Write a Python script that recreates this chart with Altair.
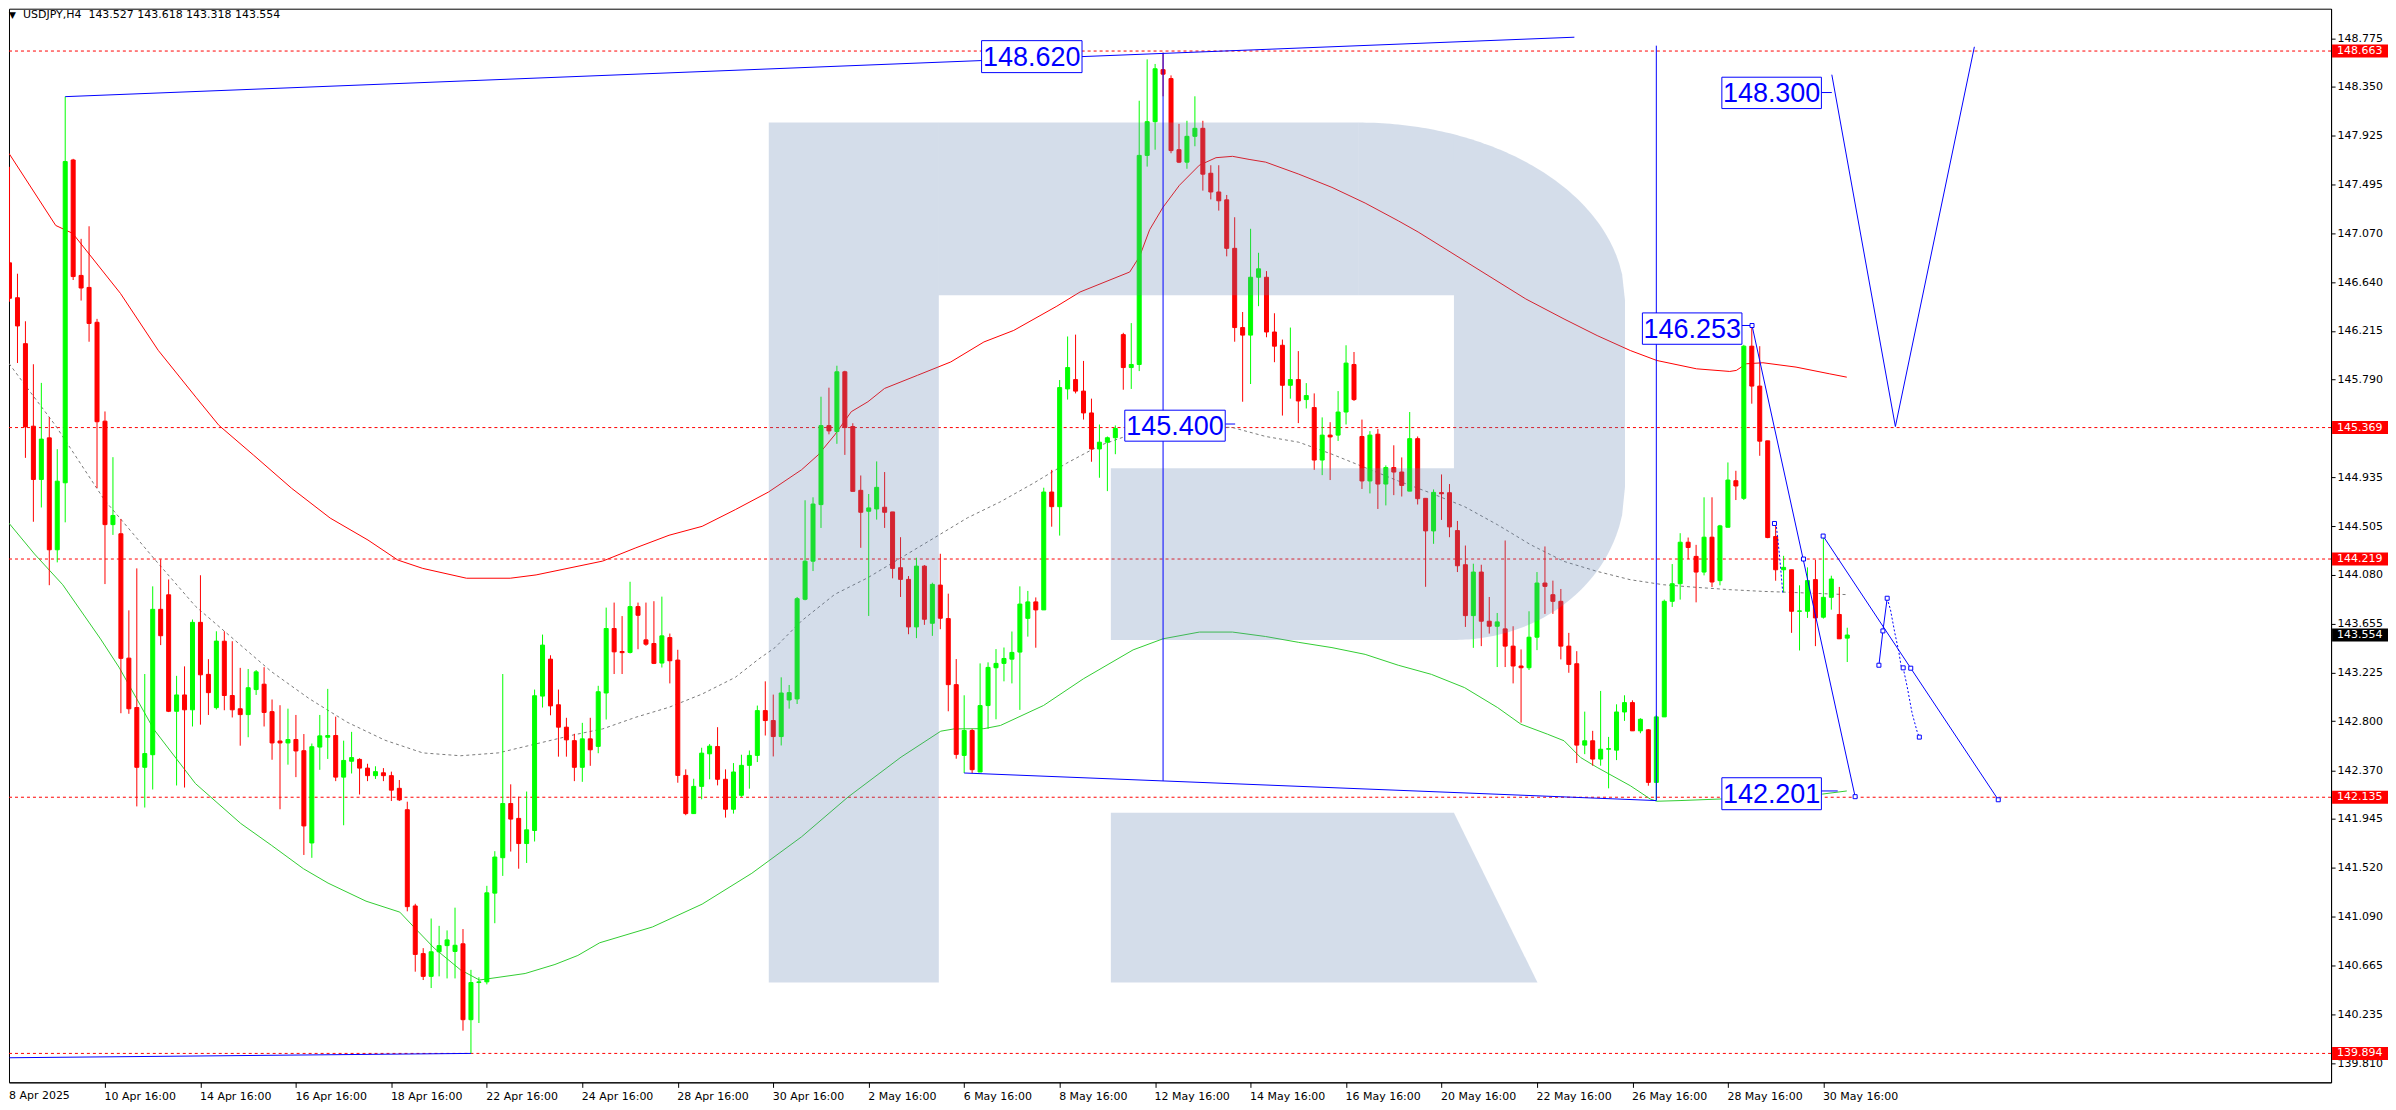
import altair as alt
import pandas as pd
import numpy as np

# ---------------- candle data (H4, index 0 = 8 Apr 16:00) ----------------
opens = [
146.810, 146.505, 146.103, 145.381, 144.915, 145.279, 144.300, 144.886, 147.710, 146.700,
146.595, 146.290, 145.425, 144.520, 144.440, 143.352, 142.920, 142.397, 142.507, 143.779,
143.906, 142.887, 143.030, 142.900, 143.665, 143.210, 142.919, 143.500, 143.025, 142.909,
142.858, 143.077, 143.124, 142.884, 142.627, 142.610, 142.640, 142.542, 141.735, 142.574,
142.660, 142.675, 142.311, 142.450, 142.466, 142.390, 142.324, 142.349, 142.324, 142.213,
142.026, 141.184, 140.767, 140.568, 140.783, 140.837, 140.786, 140.853, 140.189, 140.514,
140.520, 141.296, 141.606, 142.080, 141.950, 141.730, 141.844, 143.020, 143.343, 142.944,
142.748, 142.630, 142.397, 142.646, 142.580, 143.047, 143.611, 143.410, 143.402, 143.803,
143.512, 143.480, 143.309, 143.532, 143.335, 142.326, 141.992, 142.230, 142.515, 142.579,
142.292, 142.030, 142.152, 142.414, 142.501, 142.893, 142.806, 142.666, 142.986, 142.995,
143.867, 144.200, 144.695, 145.386, 145.334, 145.857, 145.378, 144.820, 144.637, 144.657,
144.672, 144.631, 144.143, 144.041, 143.625, 144.157, 143.657, 143.991, 143.698, 143.120,
142.501, 142.719, 142.356, 142.937, 143.268, 143.306, 143.343, 143.405, 143.700, 143.844,
143.774, 144.805, 144.677, 145.707, 145.789, 145.688, 145.497, 145.182, 145.241, 145.280,
146.182, 145.894, 145.921, 147.750, 148.045, 148.500, 148.422, 147.800, 147.691, 147.917,
147.987, 147.594, 147.430, 147.361, 146.937, 146.244, 146.178, 146.684, 146.684, 146.205,
146.089, 145.739, 145.789, 145.614, 145.544, 145.085, 145.303, 145.303, 145.505, 145.921,
145.291, 144.902, 145.311, 144.875, 145.019, 144.980, 144.813, 145.272, 144.750, 144.465,
144.800, 144.799, 144.468, 144.169, 143.724, 144.105, 143.675, 143.631, 143.608, 143.457,
143.283, 143.268, 143.535, 144.009, 143.907, 143.849, 143.457, 143.303, 142.591, 142.629,
142.469, 142.555, 142.547, 142.881, 142.963, 142.716, 142.725, 142.265, 142.838, 143.849,
144.003, 144.366, 144.242, 144.105, 144.410, 144.030, 144.497, 144.904, 144.750, 146.081,
145.732, 145.253, 144.416, 144.125, 144.125, 143.762, 143.762, 144.039, 143.710, 143.884,
143.734, 143.527]
highs = [
147.650, 146.715, 146.299, 145.923, 145.760, 145.460, 145.180, 148.264, 147.720, 147.020,
147.130, 146.320, 145.510, 145.110, 144.570, 143.770, 144.137, 143.213, 143.980, 144.216,
144.040, 143.197, 143.280, 143.690, 144.077, 143.343, 143.587, 143.587, 143.500, 143.267,
143.257, 143.248, 143.273, 142.990, 142.940, 142.910, 142.855, 142.688, 142.605, 142.855,
143.083, 142.840, 142.630, 142.707, 142.476, 142.428, 142.406, 142.390, 142.359, 142.286,
142.096, 141.203, 140.815, 141.074, 141.010, 140.970, 141.169, 140.982, 140.625, 140.560,
141.360, 141.663, 143.213, 142.248, 142.140, 142.185, 143.077, 143.558, 143.377, 143.077,
142.830, 142.690, 142.786, 142.830, 143.110, 143.794, 143.838, 143.720, 144.020, 143.838,
143.838, 143.850, 143.890, 143.567, 143.425, 142.379, 142.297, 142.568, 142.600, 142.748,
142.379, 142.434, 142.507, 142.544, 142.937, 143.149, 143.033, 143.184, 143.117, 143.887,
144.733, 144.759, 145.639, 145.718, 145.910, 145.866, 145.407, 144.950, 144.788, 145.073,
144.980, 144.631, 144.410, 144.070, 144.230, 144.166, 144.012, 144.265, 143.916, 143.344,
143.027, 142.733, 143.306, 143.315, 143.431, 143.445, 143.585, 143.980, 143.940, 143.883,
144.843, 144.999, 145.785, 146.166, 146.182, 145.952, 145.622, 145.396, 145.291, 145.388,
146.198, 146.283, 148.228, 148.590, 148.550, 148.650, 148.450, 148.026, 148.053, 148.267,
148.053, 147.664, 147.664, 147.404, 147.209, 146.380, 147.108, 146.898, 146.738, 146.369,
146.139, 146.244, 146.038, 145.758, 145.668, 145.458, 145.416, 145.688, 146.089, 146.030,
145.439, 145.338, 145.357, 145.038, 145.214, 145.108, 145.505, 145.291, 144.750, 144.828,
144.959, 144.875, 144.552, 144.337, 144.178, 144.169, 143.887, 143.747, 144.381, 143.631,
143.428, 143.762, 144.105, 144.329, 144.030, 143.957, 143.573, 143.413, 142.884, 142.716,
143.065, 142.663, 142.948, 143.027, 142.983, 142.826, 142.731, 142.855, 143.864, 144.175,
144.445, 144.407, 144.343, 144.759, 144.759, 144.518, 145.064, 144.991, 146.093, 146.253,
146.081, 145.253, 144.547, 144.247, 144.125, 143.989, 144.146, 144.212, 144.436, 144.073,
143.975, 143.618]
lows = [
146.470, 145.934, 145.104, 144.545, 144.670, 143.990, 144.190, 144.540, 146.660, 146.480,
146.120, 144.840, 144.000, 144.430, 142.870, 142.865, 142.055, 142.045, 142.203, 143.466,
142.880, 142.238, 142.220, 142.754, 142.770, 142.855, 142.903, 142.896, 142.833, 142.586,
142.660, 143.030, 142.754, 142.463, 142.030, 142.420, 142.311, 141.630, 141.605, 142.375,
142.470, 142.276, 141.890, 142.343, 142.159, 142.276, 142.295, 142.276, 142.102, 142.102,
141.137, 140.609, 140.536, 140.466, 140.568, 140.550, 140.550, 140.093, 139.894, 140.160,
140.498, 141.033, 141.447, 141.660, 141.510, 141.560, 141.748, 142.920, 142.852, 142.490,
142.490, 142.276, 142.270, 142.410, 142.520, 142.815, 143.213, 143.213, 143.393, 143.430,
143.460, 143.300, 143.270, 143.131, 142.262, 141.978, 141.990, 142.117, 142.292, 142.239,
141.957, 141.992, 142.138, 142.210, 142.443, 142.675, 142.492, 142.588, 142.910, 142.951,
143.858, 144.114, 144.491, 145.310, 145.227, 145.130, 144.811, 144.317, 143.721, 144.564,
144.491, 144.050, 143.887, 143.561, 143.527, 143.643, 143.547, 143.605, 142.887, 142.472,
142.347, 142.347, 142.356, 142.733, 142.817, 143.149, 143.131, 142.899, 143.540, 143.443,
143.774, 144.502, 144.424, 145.614, 145.668, 145.439, 145.070, 144.930, 144.813, 145.136,
145.700, 145.707, 145.863, 147.652, 147.800, 148.267, 147.769, 147.683, 147.633, 147.830,
147.442, 147.365, 147.267, 146.867, 146.120, 145.595, 145.750, 146.431, 146.159, 145.941,
145.474, 145.622, 145.408, 145.536, 144.999, 144.953, 144.910, 145.252, 145.396, 145.602,
144.832, 144.793, 144.657, 144.688, 144.778, 144.766, 144.813, 144.696, 143.976, 144.352,
144.561, 144.410, 144.105, 143.625, 143.442, 143.457, 143.567, 143.274, 143.274, 143.131,
142.788, 143.248, 143.422, 143.739, 143.739, 143.341, 143.224, 142.434, 142.512, 142.411,
142.411, 142.213, 142.460, 142.803, 142.716, 142.695, 142.236, 142.106, 142.838, 143.800,
143.864, 144.218, 143.840, 144.076, 143.974, 143.989, 144.497, 144.735, 144.735, 145.578,
145.122, 144.401, 144.029, 143.928, 143.573, 143.419, 143.704, 143.457, 143.698, 143.776,
143.521, 143.318]
closes = [
146.500, 146.258, 145.375, 144.915, 145.268, 144.300, 144.900, 147.696, 146.690, 146.590,
146.280, 145.420, 144.520, 144.600, 143.350, 142.909, 142.397, 142.517, 143.779, 143.548,
142.887, 143.030, 142.900, 143.665, 143.206, 143.050, 143.501, 143.025, 142.900, 142.858,
143.093, 143.232, 142.877, 142.610, 142.610, 142.640, 142.540, 141.884, 142.577, 142.672,
142.675, 142.311, 142.457, 142.482, 142.390, 142.324, 142.359, 142.324, 142.197, 142.112,
141.178, 140.760, 140.568, 140.783, 140.837, 140.887, 140.840, 140.189, 140.514, 140.520,
141.299, 141.612, 142.080, 141.944, 141.730, 141.850, 143.023, 143.466, 142.934, 142.748,
142.637, 142.397, 142.646, 142.550, 143.058, 143.611, 143.407, 143.400, 143.803, 143.727,
143.474, 143.306, 143.547, 143.329, 142.326, 141.992, 142.230, 142.521, 142.582, 142.292,
142.030, 142.356, 142.414, 142.501, 142.893, 142.806, 142.666, 143.047, 143.050, 143.872,
144.200, 144.700, 145.386, 145.340, 145.857, 145.369, 144.811, 144.628, 144.666, 144.846,
144.628, 144.137, 144.041, 143.625, 144.157, 143.692, 143.997, 143.701, 143.120, 142.510,
142.719, 142.376, 142.937, 143.271, 143.306, 143.349, 143.402, 143.825, 143.844, 143.774,
144.805, 144.677, 145.719, 145.894, 145.688, 145.497, 145.182, 145.241, 145.280, 145.361,
145.894, 145.921, 147.750, 148.045, 148.508, 148.461, 147.792, 147.691, 147.917, 147.987,
147.586, 147.430, 147.353, 146.937, 146.244, 146.178, 146.684, 146.758, 146.205, 146.081,
145.739, 145.789, 145.602, 145.649, 145.085, 145.303, 145.287, 145.505, 145.933, 145.614,
144.902, 145.303, 144.875, 145.019, 144.980, 144.863, 145.272, 144.747, 144.465, 144.802,
144.790, 144.500, 144.160, 143.724, 144.105, 143.675, 143.631, 143.669, 143.457, 143.283,
143.268, 143.535, 144.009, 143.980, 143.849, 143.457, 143.297, 142.591, 142.629, 142.469,
142.555, 142.560, 142.881, 142.963, 142.716, 142.817, 142.265, 142.838, 143.849, 144.003,
144.366, 144.320, 144.105, 144.410, 144.018, 144.509, 144.910, 144.858, 146.081, 145.732,
145.250, 144.407, 144.125, 144.146, 143.762, 143.765, 144.030, 143.704, 143.884, 144.044,
143.521, 143.554]

# ---------------- moving averages (bar index, price) ----------------
red_ma_i = [-0.06, 5.81, 7.94, 13.94, 18.69, 23.44, 26.31, 30.69, 35.44, 40.31, 45.06, 48.81,
            51.94, 57.44, 62.94, 66.19, 74.56, 78.73, 82.9, 87.06, 91.23, 95.4, 99.56, 101.65,
            103.73, 105.81, 107.9, 109.98, 114.15, 118.31, 122.48, 126.23, 131.65, 134.56,
            140.81, 142.06, 143.31, 144.98, 147.06, 149.56, 151.65, 153.73, 155.81, 157.9,
            162.06, 166.23, 170.4, 174.56, 177.06, 190.6, 195.4, 199.56, 203.73, 207.06,
            212.06, 216.23, 217.06, 218.31, 220.4, 224.56, 228.73, 230.94]
red_ma_p = [147.767, 147.137, 147.068, 146.543, 146.045, 145.634, 145.389, 145.127, 144.839,
            144.577, 144.385, 144.21, 144.137, 144.051, 144.051, 144.08, 144.201, 144.317,
            144.427, 144.505, 144.651, 144.805, 145.0, 145.13, 145.305, 145.508, 145.595,
            145.711, 145.827, 145.943, 146.118, 146.219, 146.431, 146.555, 146.73, 146.867,
            147.1, 147.295, 147.489, 147.664, 147.73, 147.742, 147.715, 147.691, 147.586,
            147.47, 147.333, 147.178, 147.08, 146.494, 146.319, 146.174, 146.043, 145.956,
            145.883, 145.86, 145.869, 145.927, 145.936, 145.898, 145.84, 145.81]
grey_ma_i = [-0.06, 2.44, 5.75, 9.06, 11.94, 14.81, 18.14, 23.38, 28.14, 32.9, 37.66, 42.43,
             47.19, 51.94, 56.69, 61.44, 66.19, 70.94, 74.56, 78.73, 82.9, 87.06, 91.23, 94.15,
             96.23, 99.56, 103.73, 107.9, 112.06, 116.23, 120.4, 124.56, 128.73, 132.9, 137.06,
             140.23, 147.06, 153.69, 157.9, 162.06, 166.23, 170.4, 174.56, 178.73, 182.9,
             187.06, 191.23, 195.4, 199.56, 203.73, 207.9, 212.06, 216.23, 220.4, 222.9, 230.81]
grey_ma_p = [145.929, 145.696, 145.39, 145.04, 144.735, 144.5, 144.225, 143.805, 143.52,
             143.235, 142.998, 142.792, 142.634, 142.523, 142.498, 142.523, 142.602, 142.681,
             142.733, 142.835, 142.922, 143.038, 143.184, 143.343, 143.445, 143.678, 143.91,
             144.056, 144.23, 144.404, 144.579, 144.72, 144.883, 145.058, 145.213, 145.291,
             145.38, 145.37, 145.291, 145.241, 145.136, 145.019, 144.902, 144.794, 144.677,
             144.518, 144.343, 144.198, 144.111, 144.038, 143.994, 143.971, 143.951, 143.936,
             143.93, 143.908]
green_ma_i = [-0.06, 3.14, 6.69, 11.44, 13.81, 18.14, 23.38, 29.06, 32.9, 36.94, 40.04, 44.81,
              49.06, 50.99, 53.38, 56.69, 59.06, 64.81, 68.56, 71.44, 74.19, 80.81, 87.06,
              93.31, 99.56, 105.4, 112.06, 117.06, 118.73, 122.48, 124.56, 129.98, 134.98,
              141.23, 144.98, 149.56, 153.73, 157.9, 162.06, 166.23, 170.4, 174.56, 178.73,
              182.9, 187.06, 189.98, 193.31, 195.4, 197.48, 199.56, 203.73, 206.23, 207.06,
              209.98, 215.19, 223.31, 227.9, 230.94]
green_ma_p = [144.532, 144.263, 143.994, 143.52, 143.267, 142.729, 142.254, 141.906, 141.716,
              141.51, 141.384, 141.226, 141.13, 140.988, 140.815, 140.625, 140.536, 140.593,
              140.672, 140.751, 140.862, 141.0, 141.2, 141.47, 141.789, 142.137, 142.486,
              142.713, 142.733, 142.735, 142.763, 142.938, 143.171, 143.424, 143.521, 143.58,
              143.58, 143.541, 143.49, 143.444, 143.385, 143.29, 143.21, 143.094, 142.919,
              142.774, 142.687, 142.629, 142.483, 142.396, 142.236, 142.12, 142.1, 142.106,
              142.12, 142.15, 142.163, 142.19]

# ---------------- levels, ticks ----------------
level_prices = [148.663, 145.369, 144.219, 142.135, 139.894]
bid_price = 143.554
y_ticks = [148.775, 148.350, 147.925, 147.495, 147.070, 146.640, 146.215, 145.790, 144.935,
           144.505, 144.080, 143.655, 143.225, 142.800, 142.370, 141.945, 141.520, 141.090,
           140.665, 140.235, 139.810]
x_tick_idx = list(range(12, 229, 12))
x_tick_labels = ["10 Apr 16:00", "14 Apr 16:00", "16 Apr 16:00", "18 Apr 16:00", "22 Apr 16:00",
                 "24 Apr 16:00", "28 Apr 16:00", "30 Apr 16:00", "2 May 16:00", "6 May 16:00",
                 "8 May 16:00", "12 May 16:00", "14 May 16:00", "16 May 16:00", "20 May 16:00",
                 "22 May 16:00", "26 May 16:00", "28 May 16:00", "30 May 16:00"]
first_label = "8 Apr 2025"
header = "USDJPY,H4\u00a0 143.527 143.618 143.318 143.554"

# ---------------- analysis drawings (bar index, price) ----------------
blue_segments = {
    "top":  [(7.0, 148.264), (196.7, 148.784)],
    "low":  [(0.0, 139.856), (58.0, 139.894)],
    "base": [(120.0, 142.347), (207.0, 142.106)],
    "v1":   [(145.0, 142.278), (145.0, 148.64)],
    "v2":   [(207.0, 142.106), (207.0, 148.71)],
    "f1":   [(219.03, 146.262), (231.99, 142.14)],
    "f2":   [(227.97, 144.42), (238.98, 143.264), (249.98, 142.113)],
    "zz":   [(234.98, 143.29), (235.48, 143.59), (236.02, 143.876)],
    "V":    [(229.06, 148.456), (237.05, 145.378), (246.98, 148.70)],
    "t1":   [(227.75, 148.30), (229.06, 148.30)],
    "t2":   [(217.76, 146.262), (219.03, 146.262)],
    "t3":   [(227.75, 142.19), (229.8, 142.19)],
    "t4":   [(152.81, 145.40), (154.06, 145.40)],
}
blue_dashed = {
    "d1": [(236.02, 143.876), (236.44, 143.773), (236.98, 143.572), (237.48, 143.409),
           (237.78, 143.278), (238.03, 143.267), (238.53, 143.103), (239.15, 142.871),
           (239.78, 142.71), (240.06, 142.661)],
    "d2": [(221.85, 144.53), (222.1, 144.50), (222.5, 144.24), (222.9, 143.92)],
}
nodes = [(219.03, 146.262), (225.5, 144.219), (231.99, 142.14), (227.97, 144.42),
         (238.98, 143.264), (249.98, 142.113), (234.98, 143.29), (235.48, 143.59),
         (236.02, 143.876), (238.03, 143.267), (240.06, 142.661), (221.85, 144.53)]
label_texts = ["148.620", "145.400", "146.253", "148.300", "142.201"]

# ---------------- geometry helpers (page pixels of reference -> data units) ----------------
def gi(x):
    return (x - 3.5) / 8.0

def gp(y):
    return 148.663 - (y - 50.4) / 114.45

label_boxes_px = [(981, 1082, 40, 72), (1125, 1226, 410, 441), (1645.5, 1745.6, 312.6, 344),
                  (1725.4, 1825.5, 76.6, 108), (1725.4, 1825.5, 778, 810)]

W, H = 2325, 1075
XDOM = [0.5625, 291.1875]
YDOM = [139.641, 149.0335]
xs = alt.Scale(domain=XDOM, nice=False, zero=False)
ys = alt.Scale(domain=YDOM, nice=False, zero=False)

label_expr = "[" + ",".join("'" + s + "'" for s in x_tick_labels) + "][round(datum.value/12)-1]"
x_axis = alt.Axis(values=x_tick_idx, labelExpr=label_expr, labelAlign="left", labelBaseline="top",
                  labelPadding=3, labelOffset=-1, tickSize=5, tickColor="#000000",
                  domainColor="#000000", labelColor="#000000", labelFont="DejaVu Sans",
                  labelFontSize=11, grid=False, title=None, labelOverlap=False,
                  labelFlush=False, orient="bottom")
y_axis = alt.Axis(values=y_ticks, format=".3f", orient="right", labelPadding=2, tickSize=4,
                  tickColor="#000000", domainColor="#000000", labelColor="#000000",
                  labelFont="DejaVu Sans", labelFontSize=11, grid=False, title=None,
                  labelOverlap=False, labelFlush=False, labelBaseline="middle")


def X(f):
    return alt.X(f, type="quantitative", scale=xs, axis=x_axis)


def Y(f):
    return alt.Y(f, type="quantitative", scale=ys, axis=y_axis)


# ---------------- data frames ----------------
n = len(opens)
cd = pd.DataFrame({"i": np.arange(n), "o": opens, "h": highs, "l": lows, "c": closes})
cd["col"] = np.where(cd["c"] >= cd["o"], "#00ff00", "#ff0000")

red_df = pd.DataFrame({"i": red_ma_i, "p": red_ma_p})
grey_df = pd.DataFrame({"i": grey_ma_i, "p": grey_ma_p})
green_df = pd.DataFrame({"i": green_ma_i, "p": green_ma_p})
lev_df = pd.DataFrame({"p": level_prices})


def seg_df(d):
    rows = []
    for k, pts in d.items():
        for j, (a, b) in enumerate(pts):
            rows.append({"seg": k, "ord": j, "i": a, "p": b})
    return pd.DataFrame(rows)


blue_df = seg_df(blue_segments)
blue_dash_df = seg_df(blue_dashed)
node_df = pd.DataFrame({"i": [a for a, b in nodes], "p": [b for a, b in nodes]})

box_df = pd.DataFrame({
    "x0": [gi(b[0]) for b in label_boxes_px], "x1": [gi(b[1]) for b in label_boxes_px],
    "y0": [gp(b[2]) for b in label_boxes_px], "y1": [gp(b[3]) for b in label_boxes_px],
    "xc": [gi((b[0] + b[1]) / 2) for b in label_boxes_px],
    "yc": [gp((b[2] + b[3]) / 2 + 1) for b in label_boxes_px],
    "t": label_texts})

# watermark "R" (decorative logo), built in reference pixel space
def arc_top(x):
    return 300 - 178 * np.sqrt(max(0.0, 1 - ((x - 1360) / 268.0) ** 2))


def arc_bot(x):
    if x < 1457:
        return 640.0
    return 487 + 153 * np.sqrt(max(0.0, 1 - ((x - 1457) / 171.0) ** 2))


wm_rows = []


def add_piece(name, pts):
    for (x, t, b) in pts:
        wm_rows.append({"piece": name, "x": gi(x), "top": gp(t), "bot": gp(b)})


add_piece("stem", [(767, 122, 983), (938, 122, 983)])
add_piece("bar", [(938, 122, 295), (1360, 122, 295)])
add_piece("arc1", [(x, arc_top(x), 295) for x in np.linspace(1360, 1456, 25)])
add_piece("bowl", [(x, arc_top(x), arc_bot(x)) for x in np.linspace(1456, 1628, 60)])
add_piece("cross", [(1111, 468, 640), (1456, 468, 640)])
add_piece("leg", [(1111, 813, 983), (1456, 813, 983), (1540, 983, 983)])
wm_df = pd.DataFrame(wm_rows)

bh = 6.5 / 114.45
val_df = pd.DataFrame({"p": level_prices + [bid_price],
                       "col": ["#ff0000"] * len(level_prices) + ["#000000"]})
val_df["t"] = val_df["p"].map(lambda v: f"{v:.3f}")
val_df["a"] = val_df["p"] + bh
val_df["b"] = val_df["p"] - bh

# ---------------- layers ----------------
levels = alt.Chart(lev_df).mark_rule(color="#ff0000", strokeDash=[3, 3], strokeWidth=1).encode(y=Y("p"))
red_line = alt.Chart(red_df).mark_line(color="#ff0000", strokeWidth=1, clip=True).encode(x=X("i"), y=Y("p"))
grey_line = alt.Chart(grey_df).mark_line(color="#7a7a7a", strokeWidth=1, strokeDash=[3, 3], clip=True).encode(x=X("i"), y=Y("p"))
green_line = alt.Chart(green_df).mark_line(color="#32cd32", strokeWidth=1, clip=True).encode(x=X("i"), y=Y("p"))

wicks = alt.Chart(cd).mark_rule(strokeWidth=1, clip=True).encode(
    x=X("i"), y=Y("l"), y2="h", color=alt.Color("col:N", scale=None))
bodies = alt.Chart(cd).mark_bar(size=4, strokeWidth=1, clip=True).encode(
    x=X("i"), y=Y("o"), y2="c", color=alt.Color("col:N", scale=None),
    stroke=alt.Stroke("col:N", scale=None))

watermark = alt.Chart(wm_df).mark_area(color="#6183b0", opacity=0.27, clip=True).encode(
    x=X("x"), y=Y("top"), y2="bot", detail="piece:N")

blue_lines = alt.Chart(blue_df).mark_line(color="#0000ff", strokeWidth=1, clip=True).encode(
    x=X("i"), y=Y("p"), detail="seg:N", order="ord:Q")
blue_dash = alt.Chart(blue_dash_df).mark_line(color="#0000ff", strokeWidth=1, strokeDash=[2, 2], clip=True).encode(
    x=X("i"), y=Y("p"), detail="seg:N", order="ord:Q")
node_marks = alt.Chart(node_df).mark_point(shape="square", size=16, filled=True, fill="#ffffff",
                                           stroke="#0000ff", strokeWidth=1, opacity=1).encode(x=X("i"), y=Y("p"))

boxes = alt.Chart(box_df).mark_rect(fill="#ffffff", stroke="#0000ff", strokeWidth=1).encode(
    x=X("x0"), x2="x1", y=Y("y0"), y2="y1")
box_text = alt.Chart(box_df).mark_text(font="Liberation Sans", fontSize=27, color="#0000ff",
                                       align="center", baseline="middle").encode(
    x=X("xc"), y=Y("yc"), text="t:N")

val_boxes = alt.Chart(val_df).mark_rect().encode(
    x=alt.value(W + 1), x2=alt.value(W + 57), y=Y("a"), y2="b", color=alt.Color("col:N", scale=None))
val_text = alt.Chart(val_df).mark_text(font="DejaVu Sans", fontSize=11, color="#ffffff",
                                       align="left", baseline="middle").encode(
    x=alt.value(W + 6), y=Y("p"), text="t:N")

hdr = alt.Chart(pd.DataFrame({"t": [header]})).mark_text(
    font="DejaVu Sans", fontSize=11, color="#000000", align="left", baseline="middle").encode(
    x=alt.value(14), y=alt.value(6), text="t:N")
tri = alt.Chart(pd.DataFrame({"t": ["\u25bc"]})).mark_text(
    font="DejaVu Sans", fontSize=9, color="#000000", align="left", baseline="middle").encode(
    x=alt.value(0), y=alt.value(6), text="t:N")
first_lbl = alt.Chart(pd.DataFrame({"t": [first_label]})).mark_text(
    font="DejaVu Sans", fontSize=11, color="#000000", align="left", baseline="top").encode(
    x=alt.value(0), y=alt.value(H + 8), text="t:N")

chart = alt.layer(
    levels, red_line, grey_line, green_line, wicks, bodies, watermark,
    blue_lines, blue_dash, node_marks, boxes, box_text, val_boxes, val_text,
    hdr, tri, first_lbl
).properties(width=W, height=H, padding=0, background="#ffffff").configure_view(
    stroke="#000000", strokeWidth=1)

chart.save("out.html", embed_options={"renderer": "svg", "actions": False})
